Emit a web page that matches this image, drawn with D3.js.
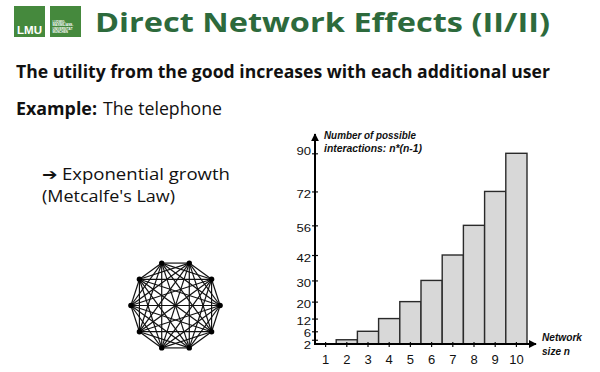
<!DOCTYPE html>
<html>
<head>
<meta charset="utf-8">
<script src="https://cdn.jsdelivr.net/npm/d3@7"></script>
<style>
  html, body { margin: 0; padding: 0; background: #fff; }
  svg { display: block; }
</style>
</head>
<body>
<svg id="slide" width="600" height="372"></svg>
<script>
// netwerkgrootte n en aantal mogelijke interacties n*(n-1)
const netwerkGrootte = [1, 2, 3, 4, 5, 6, 7, 8, 9, 10];
const interacties    = [0, 2, 6, 12, 20, 30, 42, 56, 72, 90];
const yTicks         = [2, 6, 12, 20, 30, 42, 56, 72, 90];
const knopen         = [0, 1, 2, 3, 4, 5, 6, 7, 8, 9];

const svg = d3.select('#slide');
const groen = '#2d6a3c';
const logoGroen = '#45893d';
const tekstFont = "'Open Sans', sans-serif";
const grafiekFont = "'Liberation Sans', Arial, sans-serif";

// logo
svg.append('rect').attr('x', 14).attr('y', 6).attr('width', 31).attr('height', 31).attr('fill', logoGroen);
svg.append('rect').attr('x', 50).attr('y', 6).attr('width', 31).attr('height', 31).attr('fill', logoGroen);
svg.append('text').attr('x', 29.5).attr('y', 34).attr('text-anchor', 'middle')
    .style('font-family', grafiekFont).style('font-size', '10.5px').style('font-weight', 'bold')
    .style('fill', '#fff').attr('textLength', 25).attr('lengthAdjust', 'spacingAndGlyphs').text('LMU');
['LUDWIG-', 'MAXIMILIANS-', 'UNIVERSITÄT', 'MÜNCHEN'].forEach((r, i) => {
    svg.append('text').attr('x', 52.5).attr('y', 23 + i * 3.3)
        .style('font-family', grafiekFont).style('font-size', '3px').style('font-weight', 'bold')
        .style('fill', '#fff').text(r);
});

// tekst, horizontaal uitgerekt zoals op de dia
const regel = (tx, ty, t, maat, breedte, gewicht) => svg.append('text').attr('x', tx).attr('y', ty)
    .style('font-family', tekstFont).style('font-size', maat + 'px').style('font-weight', gewicht)
    .style('fill', '#111').attr('textLength', breedte).attr('lengthAdjust', 'spacingAndGlyphs').text(t);

regel(95, 32, 'Direct Network Effects (II/II)', 27, 455, 700).style('fill', groen);
regel(16, 78, 'The utility from the good increases with each additional user', 17, 534, 'bold');
regel(16, 115, 'Example:', 17.5, 81, 'bold');
regel(103, 115, 'The telephone', 17.5, 119, 'normal');
regel(42, 180, '➔ Exponential growth', 16, 188, 'normal');
regel(42, 201.5, '(Metcalfe\'s Law)', 16, 133, 'normal');

// volledige graaf met 10 knopen
const hoek = d3.scaleLinear().domain([0, knopen.length]).range([Math.PI / 10, Math.PI / 10 + 2 * Math.PI]);
const cx = 175.5, cy = 305.5, straal = 44.6;
const pos = k => {
    const [px, py] = d3.pointRadial(hoek(k), straal);
    return [cx + px, cy + py];
};
const graaf = svg.append('g');
knopen.forEach(a => {
    knopen.filter(b => b > a).forEach(b => {
        const [x1, y1] = pos(a), [x2, y2] = pos(b);
        graaf.append('line').attr('x1', x1).attr('y1', y1).attr('x2', x2).attr('y2', y2)
            .attr('stroke', '#111').attr('stroke-width', 1.2);
    });
});
graaf.selectAll('circle').data(knopen).join('circle')
    .attr('cx', d => pos(d)[0]).attr('cy', d => pos(d)[1]).attr('r', 2.7).attr('fill', '#000');

// staafdiagram
const links = 315, rechts = 527, bodem = 344, boven = 153.3;
const x = d3.scaleBand().domain(netwerkGrootte).range([links, rechts]).padding(0);
const y = d3.scaleLinear().domain([0, 90]).range([bodem, boven]);

svg.append('g').selectAll('rect')
    .data(netwerkGrootte.filter((n, i) => interacties[i] > 0))
    .join('rect')
    .attr('x', n => x(n))
    .attr('y', n => y(interacties[n - 1]))
    .attr('width', x.bandwidth())
    .attr('height', n => bodem - y(interacties[n - 1]))
    .attr('fill', '#d8d8d8').attr('stroke', '#2a2a2a').attr('stroke-width', 1.4);

// labels staan op de dia iets onder hun streepje
const labelVerschuiving = v => v === 2 ? 5.7 : v === 6 ? 1.7 : v === 12 ? 2 : v === 90 ? -2 : 2.5;
const yAs = d3.axisLeft(y).tickValues(yTicks).tickSize(0).tickPadding(4);
const yg = svg.append('g').attr('transform', `translate(${links},0)`).call(yAs);
yg.select('.domain').remove();
yg.selectAll('text').style('font-family', grafiekFont).style('font-size', '11px').style('fill', '#111')
    .attr('y', d => labelVerschuiving(d))
    .attr('textLength', d => String(d).length * 7.3).attr('lengthAdjust', 'spacingAndGlyphs');
yg.selectAll('.tick').append('line').attr('x1', -3).attr('x2', 3).attr('stroke', '#111').attr('stroke-width', 1.2);

const xAs = d3.axisBottom(x).tickSize(0).tickPadding(11);
const xg = svg.append('g').attr('transform', `translate(0,${bodem})`).call(xAs);
xg.select('.domain').remove();
xg.selectAll('text').style('font-family', grafiekFont).style('font-size', '13px').style('fill', '#111');
xg.selectAll('.tick').append('line').attr('y1', -2).attr('y2', 3).attr('stroke', '#111').attr('stroke-width', 1.2);

// assen met pijlen
const defs = svg.append('defs');
defs.append('marker').attr('id', 'pijl').attr('viewBox', '0 0 10 10').attr('refX', 9).attr('refY', 5)
    .attr('markerWidth', 4).attr('markerHeight', 4).attr('orient', 'auto')
    .append('path').attr('d', 'M0,0 L10,5 L0,10 z').attr('fill', '#000');
svg.append('line').attr('x1', links).attr('y1', bodem + 1).attr('x2', links).attr('y2', 134)
    .attr('stroke', '#000').attr('stroke-width', 2).attr('marker-end', 'url(#pijl)');
svg.append('line').attr('x1', links - 1).attr('y1', bodem).attr('x2', 536).attr('y2', bodem)
    .attr('stroke', '#000').attr('stroke-width', 2).attr('marker-end', 'url(#pijl)');

const asLabel = (tx, ty, t, breedte) => svg.append('text').attr('x', tx).attr('y', ty)
    .style('font-family', grafiekFont).style('font-size', '10.5px').style('font-style', 'italic')
    .style('font-weight', 600).style('fill', '#111')
    .attr('textLength', breedte).attr('lengthAdjust', 'spacingAndGlyphs').text(t);
asLabel(324, 139, 'Number of possible', 92);
asLabel(324, 152, 'interactions: n*(n-1)', 98);
asLabel(542, 341, 'Network', 40);
asLabel(542, 355, 'size n', 28);
</script>
</body>
</html>
